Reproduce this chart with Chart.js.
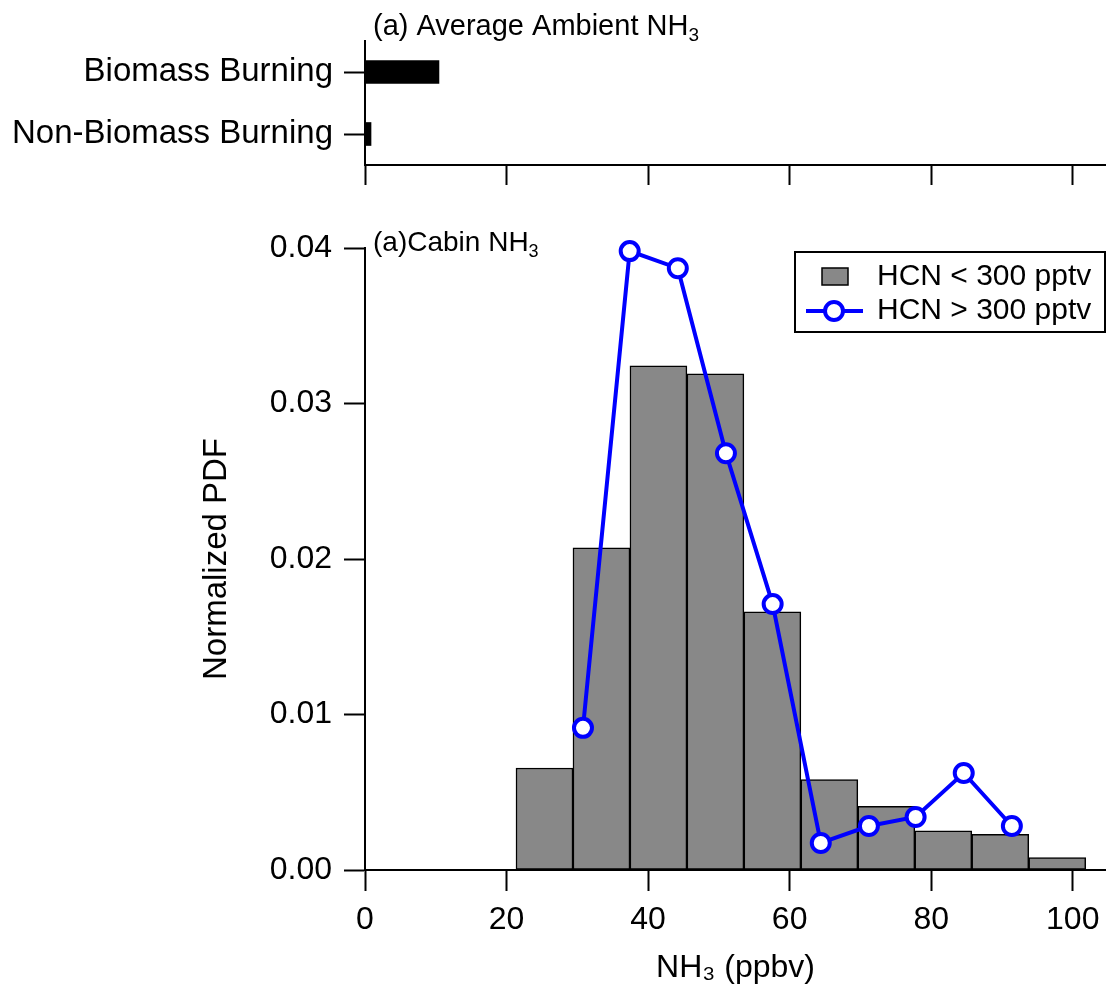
<!DOCTYPE html>
<html><head><meta charset="utf-8">
<script src="https://cdn.jsdelivr.net/npm/chart.js@4.4.1/dist/chart.umd.min.js"></script>
<style>
html,body{margin:0;padding:0;background:#fff;}
#wrap{position:relative;width:1106px;height:987px;overflow:hidden;background:#fff;}
canvas{position:absolute;left:0;top:0;}
</style></head><body>
<div id="wrap">
<canvas id="main" width="1119" height="987"></canvas>
<canvas id="top" width="1106" height="200"></canvas>
</div>
<script>
// ---- data ----
const sourceCategories = ['Biomass Burning', 'Non-Biomass Burning'];
const ambientNH3 = [10.45, 0.85];

const binCenters = [25.36, 33.41, 41.46, 49.51, 57.56, 65.61, 73.66, 81.71, 89.76, 97.81];
const pdfLowHCN  = [0.00656, 0.02072, 0.03243, 0.03191, 0.0166, 0.00581, 0.00409, 0.00252, 0.0023, 0.0008];

const highHCNx   = [30.8, 37.4, 44.2, 51.0, 57.6, 64.4, 71.2, 77.8, 84.6, 91.4];
const pdfHighHCN = [0.00914, 0.0398, 0.0387, 0.0268, 0.0171, 0.00174, 0.00283, 0.00341, 0.00624, 0.00283];

const seriesNames = ['HCN < 300 pptv', 'HCN > 300 pptv'];
const xTicks = [0, 20, 40, 60, 80, 100];
const yTicks = [0, 0.01, 0.02, 0.03, 0.04];
const yTickLabels = ['0.00', '0.01', '0.02', '0.03', '0.04'];
const xTitle = 'NH\u2083 (ppbv)';
const yTitle = 'Normalized PDF';
const topNote = [['(a) Average Ambient NH', false], ['3', true]];
const mainNote = [['(a)Cabin NH', false], ['3', true]];

// ---- styling ----
const FONT = "'Liberation Sans', Arial, Helvetica, sans-serif";
const X_MAX = 104.7;
const AX = { display: true, color: '#000', width: 2 };

function drawRich(ctx, x, y, parts, size) {
  let cx = x;
  ctx.fillStyle = '#000';
  ctx.textBaseline = 'alphabetic';
  ctx.textAlign = 'left';
  for (const [t, sub] of parts) {
    ctx.font = (sub ? Math.round(size * 0.65) : size) + 'px ' + FONT;
    ctx.fillText(t, cx, sub ? y + size * 0.2 : y);
    cx += ctx.measureText(t).width;
  }
}

const mainDecor = {
  id: 'mainDecor',
  afterDraw(chart) {
    const ctx = chart.ctx;
    ctx.save();
    drawRich(ctx, 373, 251, mainNote, 28);
    // legend box
    const ds = chart.data.datasets;
    const bx = 795, by = 252, bw = 310, bh = 80;
    ctx.fillStyle = '#fff';
    ctx.fillRect(bx, by, bw, bh);
    ctx.strokeStyle = '#000';
    ctx.lineWidth = 2;
    ctx.strokeRect(bx, by, bw, bh);
    // bar swatch
    const bar = ds[1];
    ctx.fillStyle = bar.backgroundColor;
    ctx.fillRect(822, 268, 26, 17);
    ctx.lineWidth = 1.5;
    ctx.strokeStyle = bar.borderColor;
    ctx.strokeRect(822, 268, 26, 17);
    // line swatch
    const ln = ds[0];
    ctx.strokeStyle = ln.borderColor;
    ctx.lineWidth = ln.borderWidth;
    ctx.beginPath(); ctx.moveTo(806, 311); ctx.lineTo(863, 311); ctx.stroke();
    ctx.beginPath(); ctx.arc(834, 311, ln.pointRadius, 0, Math.PI * 2);
    ctx.fillStyle = ln.pointBackgroundColor; ctx.fill();
    ctx.lineWidth = ln.pointBorderWidth; ctx.strokeStyle = ln.pointBorderColor; ctx.stroke();
    ctx.fillStyle = '#000';
    ctx.font = '30px ' + FONT;
    ctx.textBaseline = 'middle';
    ctx.textAlign = 'left';
    ctx.fillText(bar.label, 877, 277);
    ctx.fillText(ln.label, 877, 311);
    ctx.restore();
  }
};

const topDecor = {
  id: 'topDecor',
  afterDraw(chart) {
    const ctx = chart.ctx;
    ctx.save();
    drawRich(ctx, 373, 35, topNote, 29);
    ctx.restore();
  }
};

new Chart(document.getElementById('main'), {
  type: 'bar',
  data: {
    datasets: [
      {
        type: 'line', label: seriesNames[1],
        data: highHCNx.map((x, i) => ({ x: x, y: pdfHighHCN[i] })),
        borderColor: '#0000ff', borderWidth: 4, tension: 0,
        pointRadius: 9, pointHoverRadius: 9,
        pointBackgroundColor: '#ffffff', pointBorderColor: '#0000ff', pointBorderWidth: 4,
        clip: false, order: 0
      },
      {
        type: 'bar', label: seriesNames[0],
        data: binCenters.map((x, i) => ({ x: x, y: pdfLowHCN[i] })),
        backgroundColor: '#888888', borderColor: '#000000', borderWidth: 1.5,
        borderSkipped: false, barPercentage: 1, categoryPercentage: 1, order: 1
      }
    ]
  },
  options: {
    responsive: false, animation: false,
    layout: { padding: { top: 248, right: 0, bottom: 0, left: 0 } },
    plugins: { legend: { display: false }, tooltip: { enabled: false } },
    scales: {
      x: {
        type: 'linear', min: 0, max: X_MAX, offset: false,
        afterBuildTicks: s => { s.ticks = xTicks.map(v => ({ value: v })); },
        afterFit: s => { s.height = 117; s.paddingLeft = 0; s.paddingRight = 0; },
        grid: { offset: false, drawOnChartArea: false, drawTicks: true, tickLength: 21, tickColor: '#000', tickWidth: 2 },
        border: AX,
        ticks: { color: '#000', font: { family: FONT, size: 32 }, padding: 10, maxRotation: 0, autoSkip: false },
        title: { display: true, text: xTitle, color: '#000', font: { family: FONT, size: 32 }, padding: { top: 0, bottom: 0 } }
      },
      y: {
        min: 0, max: 0.04,
        afterBuildTicks: s => { s.ticks = yTicks.map(v => ({ value: v })); },
        afterFit: s => { s.width = 365; s.paddingTop = 0; s.paddingBottom = 0; },
        grid: { drawOnChartArea: false, drawTicks: true, tickLength: 21, tickColor: '#000', tickWidth: 2 },
        border: AX,
        ticks: { color: '#000', font: { family: FONT, size: 32 }, padding: 12, callback: (v, i) => yTickLabels[i] },
        title: { display: true, text: yTitle, color: '#000', font: { family: FONT, size: 33 }, padding: { top: 197, bottom: 0 } }
      }
    }
  },
  plugins: [mainDecor]
});

new Chart(document.getElementById('top'), {
  type: 'bar',
  data: {
    labels: sourceCategories,
    datasets: [{ data: ambientNH3, backgroundColor: '#000000', borderWidth: 0, barThickness: 23 }]
  },
  options: {
    indexAxis: 'y', responsive: false, animation: false,
    layout: { padding: { top: 41, right: 0, bottom: 0, left: 0 } },
    plugins: { legend: { display: false }, tooltip: { enabled: false } },
    scales: {
      x: {
        type: 'linear', min: 0, max: X_MAX,
        afterBuildTicks: s => { s.ticks = xTicks.map(v => ({ value: v })); },
        afterFit: s => { s.height = 35; s.paddingLeft = 0; s.paddingRight = 0; },
        grid: { drawOnChartArea: false, drawTicks: true, tickLength: 20, tickColor: '#000', tickWidth: 2 },
        border: AX,
        ticks: { display: false }
      },
      y: {
        afterFit: s => { s.width = 365; s.paddingTop = 0; s.paddingBottom = 0; },
        grid: { drawOnChartArea: false, drawTicks: true, offset: false, tickLength: 21, tickColor: '#000', tickWidth: 2 },
        border: AX,
        ticks: { color: '#000', font: { family: FONT, size: 33 }, padding: 11 }
      }
    }
  },
  plugins: [topDecor]
});
</script>
</body></html>
